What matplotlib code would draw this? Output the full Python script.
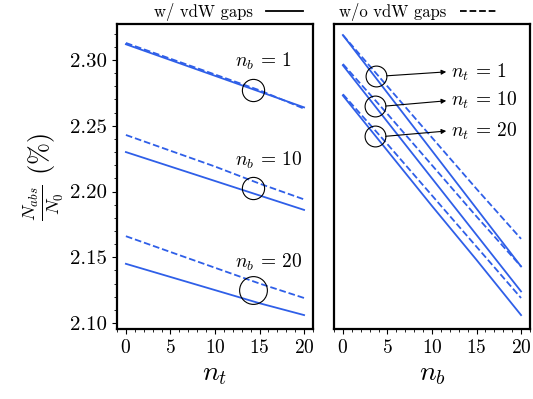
import matplotlib
matplotlib.use("Agg")
import matplotlib.pyplot as plt
from matplotlib.ticker import MultipleLocator
from matplotlib.lines import Line2D

plt.rcParams['font.family'] = 'serif'
plt.rcParams['font.serif'] = ['cmr10', 'DejaVu Serif']
plt.rcParams['mathtext.fontset'] = 'cm'
plt.rcParams['axes.formatter.use_mathtext'] = True

# abscisses communes (n_t a gauche, n_b a droite)
x_vals = [0, 5, 10, 15, 20]

# panneau gauche : N_abs/N0 en fonction de n_t, pour n_b = 1, 10, 20
nb_labels = [1, 10, 20]
gauche_avec = [
    [2.312, 2.300, 2.288, 2.276, 2.264],
    [2.230, 2.219, 2.208, 2.197, 2.186],
    [2.145, 2.135, 2.125, 2.115, 2.106],
]
gauche_sans = [
    [2.313, 2.301, 2.289, 2.277, 2.263],
    [2.243, 2.231, 2.219, 2.206, 2.194],
    [2.166, 2.154, 2.142, 2.130, 2.119],
]
# cercles et etiquettes du panneau gauche
cercles_g_x = [14.3, 14.3, 14.3]
cercles_g_y = [2.277, 2.203, 2.125]
cercles_g_taille = [16, 16, 20]
etiq_g_y = [2.299, 2.224, 2.146]

# panneau droit : N_abs/N0 en fonction de n_b, pour n_t = 1, 10, 20
nt_labels = [1, 10, 20]
droite_avec = [
    [2.319, 2.275, 2.231, 2.187, 2.143],
    [2.296, 2.253, 2.210, 2.167, 2.124],
    [2.273, 2.231, 2.189, 2.148, 2.106],
]
droite_sans = [
    [2.319, 2.280, 2.241, 2.202, 2.164],
    [2.297, 2.259, 2.220, 2.181, 2.143],
    [2.274, 2.236, 2.197, 2.158, 2.119],
]
cercles_d_x = [3.7, 3.6, 3.6]
cercles_d_y = [2.288, 2.265, 2.242]
fleche_y = [2.291, 2.269, 2.246]

bleu = '#2f5fe8'

fig = plt.figure(figsize=(5.33, 3.99), dpi=100)
ax1 = fig.add_axes([0.2195, 0.1754, 0.3677, 0.7644])
ax2 = fig.add_axes([0.6266, 0.1754, 0.3677, 0.7644])

for ya, ys in zip(gauche_avec, gauche_sans):
    ax1.plot(x_vals, ya, '-', color=bleu, lw=1.3)
    ax1.plot(x_vals, ys, '--', color=bleu, lw=1.3)
for ya, ys in zip(droite_avec, droite_sans):
    ax2.plot(x_vals, ya, '-', color=bleu, lw=1.3)
    ax2.plot(x_vals, ys, '--', color=bleu, lw=1.3)

for cx, cy, ms, ty, nb in zip(cercles_g_x, cercles_g_y, cercles_g_taille, etiq_g_y, nb_labels):
    ax1.plot(cx, cy, 'o', ms=ms, mfc='none', mec='k', mew=0.8)
    ax1.text(12.2, ty, rf'$n_b \,=\, {nb}$', fontsize=14, va='center', ha='left')

for cx, cy, fy, nt in zip(cercles_d_x, cercles_d_y, fleche_y, nt_labels):
    ax2.plot(cx, cy, 'o', ms=15, mfc='none', mec='k', mew=0.8)
    ax2.annotate('', xy=(11.6, fy), xytext=(cx + 1.2, cy),
                 arrowprops=dict(arrowstyle='-|>', color='k', lw=0.8,
                                 mutation_scale=7, shrinkA=0, shrinkB=0))
    ax2.text(12.1, fy, rf'$n_t \,=\, {nt}$', fontsize=14, va='center', ha='left')

for ax in (ax1, ax2):
    ax.set_xlim(-1, 21)
    ax.set_ylim(2.0954, 2.3274)
    ax.xaxis.set_major_locator(MultipleLocator(5))
    ax.xaxis.set_minor_locator(MultipleLocator(1))
    ax.yaxis.set_major_locator(MultipleLocator(0.05))
    ax.yaxis.set_minor_locator(MultipleLocator(0.01))
    ax.tick_params(which='both', direction='out')
    ax.tick_params(axis='x', labelsize=14)
    ax.tick_params(axis='y', labelsize=15)
    ax.tick_params(which='major', length=3.5)
    ax.tick_params(which='minor', length=2)
    for s in ax.spines.values():
        s.set_linewidth(1.6)

ax1.yaxis.set_major_formatter(plt.FormatStrFormatter('%.2f'))
ax2.tick_params(axis='y', which='both', left=False, labelleft=False)

ax1.set_xlabel('$n_t$', fontsize=20, labelpad=3)
ax2.set_xlabel('$n_b$', fontsize=20, labelpad=3)
ax1.set_ylabel(r'$\frac{N_{abs}}{N_0}$ (%)', fontsize=19, labelpad=4)

poignees = [Line2D([], [], color='k', lw=1.3, ls='-'),
            Line2D([], [], color='k', lw=1.3, ls='--')]
fig.legend(poignees, ['w/ vdW gaps', 'w/o vdW gaps'], ncol=2, frameon=False,
           markerfirst=False, loc='upper center', bbox_to_anchor=(0.61, 1.03),
           fontsize=12, handlelength=2.2, columnspacing=2.2, handletextpad=0.8)

fig.savefig('out.png', dpi=100)
